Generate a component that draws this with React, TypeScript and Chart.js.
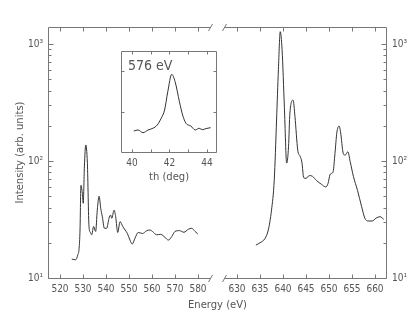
import React, { useEffect, useRef } from 'react';
import { Chart, registerables } from 'chart.js';

Chart.register(...registerables);

// ---------- data ----------
const LEFT_E = [525.1, 526.0, 526.8, 527.7, 528.3, 528.7, 529.1, 529.7, 530.1, 530.6, 531.2, 531.9, 532.6, 533.2, 533.8, 534.6, 535.5, 536.2, 537.0, 537.7, 538.4, 539.3, 540.3, 541.3, 542.0, 542.5, 543.5, 544.2, 545.1, 546.1, 547.3, 548.3, 549.3, 550.4, 551.4, 552.6, 554.0, 555.9, 557.7, 559.1, 560.6, 562.0, 563.8, 565.7, 567.1, 568.6, 570.0, 571.9, 573.9, 575.8, 577.3, 578.7, 579.9];
const LEFT_I = [14.5, 14.4, 14.3, 15.7, 17.9, 25.7, 62, 53, 43.5, 89, 137, 95.7, 27.6, 24.5, 23.4, 27.6, 25, 38, 50, 39.4, 33.4, 26.6, 26.6, 32.4, 34.5, 32.4, 38, 33.4, 24.5, 30.3, 27.5, 25.7, 24, 21.1, 19.5, 21.9, 24.5, 24, 25.4, 25.7, 24.6, 23.4, 23.6, 22.2, 21.1, 22.6, 25, 25.4, 24.6, 26.1, 26.6, 25, 23.8];

const RIGHT_E = [634.1, 635.0, 636.1, 636.8, 637.5, 638.1, 638.6, 639.0, 639.4, 639.8, 640.3, 640.8, 641.2, 641.5, 642.2, 642.6, 643.2, 643.7, 644.1, 644.5, 645.0, 645.7, 646.4, 647.3, 648.4, 649.3, 649.8, 650.2, 650.6, 650.9, 651.3, 651.7, 652.2, 652.5, 653.1, 653.5, 654.1, 654.6, 655.3, 656.2, 657.1, 657.8, 658.5, 659.4, 660.2, 661.1, 661.9];
const RIGHT_I = [19.1, 20, 21.8, 25.7, 38, 69, 224, 603, 1274, 891, 288, 96, 132, 257, 331, 240, 124, 110, 98, 72, 71, 75, 74, 68, 63, 60, 64.5, 76, 78.5, 81, 116, 174, 199, 178, 116, 112, 120, 99, 74, 56, 40.6, 32.4, 30.7, 30.7, 32.4, 33.4, 31.7];

const INSET_TH = [40.1, 40.33, 40.59, 40.86, 41.12, 41.35, 41.56, 41.74, 41.91, 42.12, 42.3, 42.53, 42.7, 42.88, 43.14, 43.37, 43.58, 43.75, 43.95, 44.19];
const INSET_I = [20.8, 21.8, 19.1, 21.8, 23.5, 26.7, 33.4, 41.6, 59.7, 76.9, 69.6, 49.8, 36.6, 28.4, 25.7, 21.8, 23.5, 22.1, 23.2, 24.1];

const X_LEFT_TICKS = [520, 530, 540, 550, 560, 570, 580];
const X_RIGHT_TICKS = [630, 635, 640, 645, 650, 655, 660];
const Y_MAJOR = [10, 100, 1000];
const Y_MINOR = [20, 30, 40, 50, 60, 70, 80, 90, 200, 300, 400, 500, 600, 700, 800, 900];
const Y_LABELS: Record<number, string> = { 10: '10\u00B9', 100: '10\u00B2', 1000: '10\u00B3' };
const INSET_X_LABELS = [40, 42, 44];
const INSET_X_MINOR = [41, 43];
const INSET_Y_TICKS = [40, 80];

const X_TITLE = 'Energy (eV)';
const Y_TITLE = 'Intensity (arb. units)';
const INSET_X_TITLE = 'th (deg)';
const INSET_LABEL = '576 eV';

// ---------- styles ----------
const FONT = "'DejaVu Sans Condensed', 'Liberation Sans Narrow', 'DejaVu Sans', sans-serif";
const TITLE_FONT = "'DejaVu Sans', sans-serif";
const TEXT = '#555';
const AXIS = '#777';
const LINE = '#333';

const tickFont = { family: FONT, size: 10 };
const titleFont = { family: TITLE_FONT, size: 10 };

const mainFrame = {
  id: 'mainFrame',
  afterDraw(chart: any) {
    const { ctx, chartArea: ca, scales } = chart;
    const xL = scales.xL, xR = scales.xR, y = scales.y;
    const t = Math.round(ca.top) + 0.5;
    const b = Math.round(ca.bottom) + 0.5;
    const l = Math.round(ca.left) + 0.5;
    const r = Math.round(ca.right) - 0.5;
    const lEnd = xL.right;
    const rStart = xR.left;
    ctx.save();
    ctx.strokeStyle = AXIS;
    ctx.lineWidth = 1;
    ctx.beginPath();
    ctx.moveTo(lEnd, t); ctx.lineTo(l, t); ctx.lineTo(l, b); ctx.lineTo(lEnd, b);
    ctx.moveTo(rStart, t); ctx.lineTo(r, t); ctx.lineTo(r, b); ctx.lineTo(rStart, b);
    for (const x of [lEnd, rStart]) {
      for (const yy of [t, b]) {
        ctx.moveTo(x - 2, yy + 3.5);
        ctx.lineTo(x + 2, yy - 3.5);
      }
    }
    const yt = (v: number, len: number) => {
      const py = Math.round(y.getPixelForValue(v)) + 0.5;
      ctx.moveTo(l, py); ctx.lineTo(l + len, py);
      ctx.moveTo(r, py); ctx.lineTo(r - len, py);
    };
    Y_MAJOR.forEach(v => yt(v, 5));
    Y_MINOR.forEach(v => yt(v, 3));
    const xt = (sc: any, v: number) => {
      const px = Math.round(sc.getPixelForValue(v)) + 0.5;
      ctx.moveTo(px, b); ctx.lineTo(px, b - 4);
      ctx.moveTo(px, t); ctx.lineTo(px, t + 4);
    };
    X_LEFT_TICKS.forEach(v => xt(xL, v));
    X_RIGHT_TICKS.forEach(v => xt(xR, v));
    ctx.stroke();
    ctx.fillStyle = TEXT;
    ctx.font = `10px ${TITLE_FONT}`;
    ctx.textAlign = 'center';
    ctx.textBaseline = 'middle';
    ctx.fillText(X_TITLE, (ca.left + ca.right) / 2, ca.bottom + 27);
    ctx.restore();
  },
};

const insetFrame = {
  id: 'insetFrame',
  beforeDatasetsDraw(chart: any) {
    const { ctx, chartArea: ca } = chart;
    ctx.save();
    ctx.fillStyle = '#fff';
    ctx.fillRect(ca.left, ca.top, ca.right - ca.left, ca.bottom - ca.top);
    ctx.restore();
  },
  afterDraw(chart: any) {
    const { ctx, chartArea: ca, scales } = chart;
    const x = scales.x, y = scales.y;
    const t = Math.round(ca.top) + 0.5;
    const b = Math.round(ca.bottom) + 0.5;
    const l = Math.round(ca.left) + 0.5;
    const r = Math.round(ca.right) - 0.5;
    ctx.save();
    ctx.strokeStyle = AXIS;
    ctx.lineWidth = 1;
    ctx.beginPath();
    ctx.rect(l, t, r - l, b - t);
    [...INSET_X_LABELS, ...INSET_X_MINOR].forEach(v => {
      const px = Math.round(x.getPixelForValue(v)) + 0.5;
      ctx.moveTo(px, b); ctx.lineTo(px, b - 3);
      ctx.moveTo(px, t); ctx.lineTo(px, t + 3);
    });
    INSET_Y_TICKS.forEach(v => {
      const py = Math.round(y.getPixelForValue(v)) + 0.5;
      ctx.moveTo(l, py); ctx.lineTo(l + 3, py);
      ctx.moveTo(r, py); ctx.lineTo(r - 3, py);
    });
    ctx.stroke();
    ctx.fillStyle = TEXT;
    ctx.font = `14px ${FONT}`;
    ctx.textAlign = 'left';
    ctx.textBaseline = 'middle';
    ctx.fillText(INSET_LABEL, ca.left + 7, ca.top + 15);
    ctx.restore();
  },
};

export default function App() {
  const mainRef = useRef<HTMLCanvasElement>(null);
  const insetRef = useRef<HTMLCanvasElement>(null);

  useEffect(() => {
    Chart.defaults.font.family = FONT;
    Chart.defaults.color = TEXT;

    const hidden = { display: false, drawTicks: false };
    const main = new Chart(mainRef.current!, {
      type: 'line',
      data: {
        datasets: [
          {
            data: LEFT_E.map((e, i) => ({ x: e, y: LEFT_I[i] })),
            xAxisID: 'xL', yAxisID: 'y',
            borderColor: LINE, borderWidth: 1, pointRadius: 0,
            cubicInterpolationMode: 'monotone', fill: false,
          },
          {
            data: RIGHT_E.map((e, i) => ({ x: e, y: RIGHT_I[i] })),
            xAxisID: 'xR', yAxisID: 'y',
            borderColor: LINE, borderWidth: 1, pointRadius: 0,
            cubicInterpolationMode: 'monotone', fill: false,
          },
        ],
      },
      options: {
        responsive: false,
        animation: false,
        events: [],
        layout: { padding: { top: 27, left: 0, right: 0, bottom: 0 } },
        plugins: { legend: { display: false }, tooltip: { enabled: false }, title: { display: false } },
        scales: {
          xL: {
            type: 'linear', position: 'bottom', stack: 'x', stackWeight: 1,
            min: 514.78, max: 585.43,
            afterBuildTicks: (s: any) => { s.ticks = X_LEFT_TICKS.map(v => ({ value: v })); },
            afterFit: (s: any) => { s.height = 43; },
            grid: hidden, border: { display: false },
            ticks: { color: TEXT, font: tickFont, padding: 5, maxRotation: 0, autoSkip: false },
          },
          xG: {
            type: 'linear', position: 'bottom', stack: 'x', stackWeight: 14 / 162.5,
            min: 0, max: 1,
            afterFit: (s: any) => { s.height = 43; },
            grid: hidden, border: { display: false },
            ticks: { display: false },
          },
          xR: {
            type: 'linear', position: 'bottom', stack: 'x', stackWeight: 1,
            min: 627.28, max: 662.61,
            afterBuildTicks: (s: any) => { s.ticks = X_RIGHT_TICKS.map(v => ({ value: v })); },
            afterFit: (s: any) => { s.height = 43; },
            grid: hidden, border: { display: false },
            ticks: { color: TEXT, font: tickFont, padding: 5, maxRotation: 0, autoSkip: false },
          },
          y: {
            type: 'logarithmic', position: 'left', min: 10, max: 1396,
            afterBuildTicks: (s: any) => { s.ticks = Y_MAJOR.map(v => ({ value: v })); },
            afterFit: (s: any) => { s.width = 48; },
            grid: hidden, border: { display: false },
            ticks: { color: TEXT, font: tickFont, padding: 5, autoSkip: false, callback: (v: any) => Y_LABELS[Number(v)] ?? '' },
            title: { display: true, text: Y_TITLE, color: TEXT, font: titleFont, padding: { top: 14, bottom: 0 } },
          },
          y2: {
            type: 'logarithmic', position: 'right', min: 10, max: 1396,
            afterBuildTicks: (s: any) => { s.ticks = Y_MAJOR.map(v => ({ value: v })); },
            afterFit: (s: any) => { s.width = 28; },
            grid: hidden, border: { display: false },
            ticks: { color: TEXT, font: tickFont, padding: 5, autoSkip: false, callback: (v: any) => Y_LABELS[Number(v)] ?? '' },
          },
        },
      } as any,
      plugins: [mainFrame],
    });

    const inset = new Chart(insetRef.current!, {
      type: 'line',
      data: {
        datasets: [
          {
            data: INSET_TH.map((t, i) => ({ x: t, y: INSET_I[i] })),
            borderColor: LINE, borderWidth: 1, pointRadius: 0,
            cubicInterpolationMode: 'monotone', fill: false,
          },
        ],
      },
      options: {
        responsive: false,
        animation: false,
        events: [],
        layout: { padding: { top: 11, left: 21, right: 13, bottom: 0 } },
        plugins: { legend: { display: false }, tooltip: { enabled: false } },
        scales: {
          x: {
            type: 'linear', min: 39.42, max: 44.53,
            afterBuildTicks: (s: any) => { s.ticks = INSET_X_LABELS.map(v => ({ value: v })); },
            afterFit: (s: any) => { s.height = 38; },
            grid: hidden, border: { display: false },
            ticks: { color: TEXT, font: tickFont, padding: 5, maxRotation: 0, autoSkip: false },
            title: { display: true, text: INSET_X_TITLE, color: TEXT, font: titleFont, padding: { top: 0, bottom: 7 } },
          },
          y: { type: 'linear', display: false, min: 0, max: 100 },
        },
      } as any,
      plugins: [insetFrame],
    });

    return () => { main.destroy(); inset.destroy(); };
  }, []);

  return (
    <div style={{ position: 'fixed', left: 0, top: 0, width: 415, height: 321, background: '#fff' }}>
      <canvas ref={mainRef} width={415} height={321} style={{ position: 'absolute', left: 0, top: 0, display: 'block' }} />
      <canvas ref={insetRef} width={130} height={150} style={{ position: 'absolute', left: 100, top: 40, display: 'block' }} />
    </div>
  );
}
